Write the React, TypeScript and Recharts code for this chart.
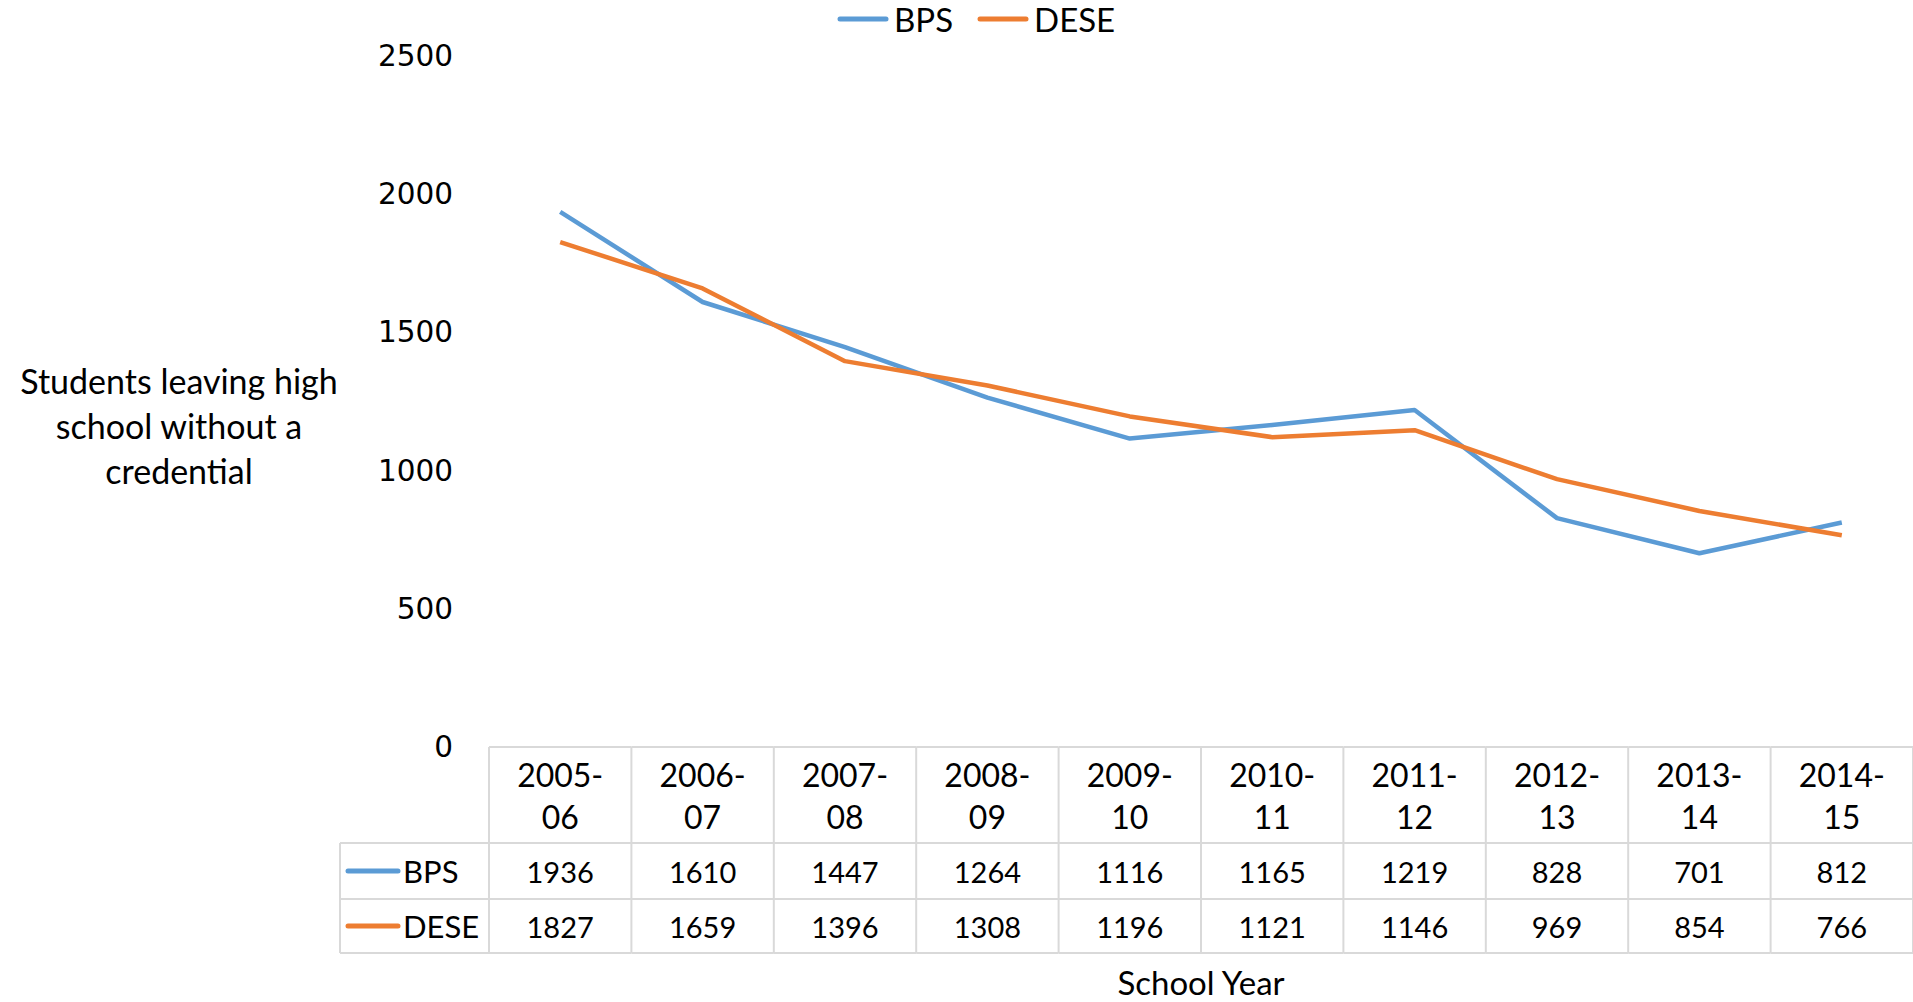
import React from 'react';
import { LineChart, Line, XAxis, YAxis } from 'recharts';

const years = ['2005-06', '2006-07', '2007-08', '2008-09', '2009-10', '2010-11', '2011-12', '2012-13', '2013-14', '2014-15'];
const bpsValues = [1936, 1610, 1447, 1264, 1116, 1165, 1219, 828, 701, 812];
const deseValues = [1827, 1659, 1396, 1308, 1196, 1121, 1146, 969, 854, 766];
const yTicks = [0, 500, 1000, 1500, 2000, 2500];
const seriesNames = ['BPS', 'DESE'];
const seriesColors = ['#5B9BD5', '#ED7D31'];
const seriesValues = [bpsValues, deseValues];
const yAxisTitle = ['Students leaving high', 'school without a', 'credential'];
const xAxisTitle = 'School Year';

const data = years.map((y, i) => {
  const row: Record<string, any> = { year: y };
  seriesNames.forEach((n, s) => (row[n] = seriesValues[s][i]));
  return row;
});

const W = 1913;
const H = 1002;
const MARGIN = { top: 56, right: 0, bottom: 0, left: 0 };
const YAXIS_W = 489;
const XAXIS_H = 255;
const PLOT_LEFT = MARGIN.left + YAXIS_W;
const COL_W = (W - MARGIN.right - PLOT_LEFT) / years.length;
const GRID = '#d9d9d9';
const FONT = 'Lato, "Open Sans", sans-serif';
const NUM = 29;
const HEAD = 32;
const LBL = 33;

// table rows, offsets from the top of the table
const HEADER_H = 96;
const ROW1_B = 152;
const ROW2_B = 206;
const LEGEND_COL_W = 149;

const TableTick = (props: any) => {
  const { x, y, payload, index } = props;
  const half = COL_W / 2;
  const label: string = String(payload.value);
  const dash = label.indexOf('-');
  const l1 = label.slice(0, dash + 1);
  const l2 = label.slice(dash + 1);
  const rowCenters = [y + (HEADER_H + ROW1_B) / 2, y + (ROW1_B + ROW2_B) / 2];
  const left = x - half;
  const right = x + half;
  return (
    <g>
      <line x1={left} x2={right} y1={y} y2={y} stroke={GRID} strokeWidth={2} />
      {[HEADER_H, ROW1_B, ROW2_B].map((o) => (
        <line key={o} x1={left} x2={right} y1={y + o} y2={y + o} stroke={GRID} strokeWidth={2} />
      ))}
      <line x1={right} x2={right} y1={y} y2={y + ROW2_B} stroke={GRID} strokeWidth={2} />
      {index === 0 && (
        <g>
          <line x1={left} x2={left} y1={y} y2={y + ROW2_B} stroke={GRID} strokeWidth={2} />
          {[HEADER_H, ROW1_B, ROW2_B].map((o) => (
            <line key={'l' + o} x1={left - LEGEND_COL_W} x2={left} y1={y + o} y2={y + o} stroke={GRID} strokeWidth={2} />
          ))}
          <line x1={left - LEGEND_COL_W} x2={left - LEGEND_COL_W} y1={y + HEADER_H} y2={y + ROW2_B} stroke={GRID} strokeWidth={2} />
          {seriesNames.map((n, s) => (
            <g key={n}>
              <line x1={left - LEGEND_COL_W + 8} x2={left - LEGEND_COL_W + 58} y1={rowCenters[s]} y2={rowCenters[s]} stroke={seriesColors[s]} strokeWidth={5} strokeLinecap="round" />
              <text x={left - LEGEND_COL_W + 63} y={rowCenters[s]} dominantBaseline="central" fontFamily={FONT} fontSize={31} fill="#000">{n}</text>
            </g>
          ))}
        </g>
      )}
      <text x={x} y={y + 27} textAnchor="middle" dominantBaseline="central" fontFamily={FONT} fontSize={HEAD} fill="#000">{l1}</text>
      <text x={x} y={y + 69} textAnchor="middle" dominantBaseline="central" fontFamily={FONT} fontSize={HEAD} fill="#000">{l2}</text>
      {seriesValues.map((vals, s) => (
        <text key={s} x={x} y={rowCenters[s]} textAnchor="middle" dominantBaseline="central" fontFamily={FONT} fontSize={NUM} fill="#000">{vals[index]}</text>
      ))}
    </g>
  );
};

const YTick = (props: any) => {
  const { x, y, payload } = props;
  return (
    <text x={x} y={y} textAnchor="end" dominantBaseline="central" fontFamily='"DejaVu Sans", sans-serif' fontSize={29.5} fill="#000">{payload.value}</text>
  );
};

export default function App() {
  return (
    <div style={{ position: 'absolute', left: 0, top: 0, width: W, height: H, background: '#fff', overflow: 'hidden' }}>
      <LineChart width={W} height={H} data={data} margin={MARGIN}>
        <XAxis dataKey="year" scale="band" interval={0} height={XAXIS_H} axisLine={false} tickLine={false} tickSize={0} tickMargin={0} tick={<TableTick />} />
        <YAxis domain={[0, 2500]} ticks={yTicks} width={YAXIS_W} axisLine={false} tickLine={false} tickSize={0} tickMargin={36} tick={<YTick />} />
        {seriesNames.map((n, s) => (
          <Line key={n} dataKey={n} type="linear" stroke={seriesColors[s]} strokeWidth={4.5} strokeLinejoin="round" dot={false} activeDot={false} isAnimationActive={false} />
        ))}
      </LineChart>
      <div style={{ position: 'absolute', left: 837, top: 0, height: 38, display: 'flex', alignItems: 'center', fontFamily: FONT, fontSize: LBL, color: '#000' }}>
        {seriesNames.map((n, s) => (
          <div key={n} style={{ display: 'flex', alignItems: 'center', marginRight: 24 }}>
            <svg width={52} height={10} style={{ marginRight: 5 }}>
              <line x1={3} x2={49} y1={5} y2={5} stroke={seriesColors[s]} strokeWidth={5} strokeLinecap="round" />
            </svg>
            <span>{n}</span>
          </div>
        ))}
      </div>
      <div style={{ position: 'absolute', left: 0, top: 358, width: 358, textAlign: 'center', fontFamily: FONT, fontSize: 34, lineHeight: '45px', color: '#000' }}>
        {yAxisTitle.map((t) => (
          <div key={t}>{t}</div>
        ))}
      </div>
      <div style={{ position: 'absolute', left: PLOT_LEFT, width: W - PLOT_LEFT, top: 960, textAlign: 'center', fontFamily: FONT, fontSize: LBL, lineHeight: '44px', color: '#000' }}>
        {xAxisTitle}
      </div>
    </div>
  );
}
